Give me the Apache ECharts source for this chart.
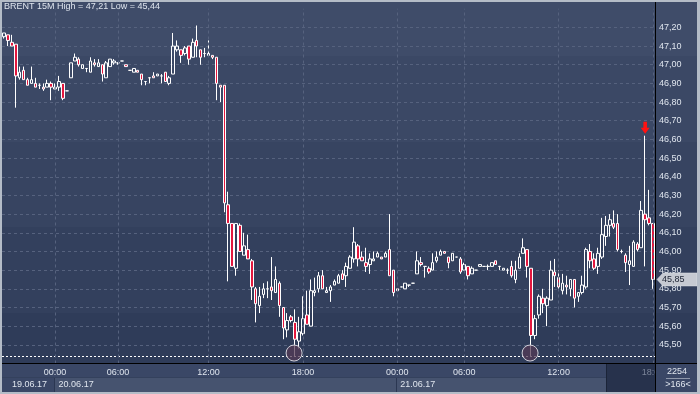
<!DOCTYPE html>
<html><head><meta charset="utf-8">
<script src="https://cdn.jsdelivr.net/npm/echarts@6/dist/echarts.min.js"></script>
<style>html,body{margin:0;padding:0;background:#3a4765;}#c{width:700px;height:394px;}</style>
</head><body><div id="c"></div>
<script>
// ---- data (BRENT 15M candles) ----
const opens = [
47.15,47.16,47.12,47.11,46.93,46.97,46.92,46.90,46.90,46.89,46.88,46.88,46.90,46.87,46.88,46.90,46.86,46.93,47.02,47.03,
46.98,46.98,46.96,47.01,46.99,47.00,46.93,46.99,47.01,47.01,47.02,47.00,46.97,46.96,46.97,46.95,46.91,46.93,46.94,46.94,
46.94,46.96,46.90,46.95,47.08,47.08,47.06,47.10,47.04,47.13,47.08,47.06,47.05,47.05,47.04,46.89,46.89,46.25,46.15,45.91,
46.14,45.98,46.01,45.95,45.80,45.71,45.77,45.80,45.81,45.78,45.83,45.70,45.58,45.65,45.62,45.52,45.56,45.66,45.60,45.78,
45.80,45.87,45.78,45.79,45.82,45.83,45.88,45.87,45.91,45.96,46.03,45.97,45.94,45.93,45.95,45.97,45.97,45.97,46.01,45.90,
45.80,45.81,45.80,45.82,45.83,45.88,45.94,45.92,45.91,45.90,45.95,45.98,46.00,45.97,45.95,45.97,45.96,45.90,45.92,45.88,
45.90,45.92,45.92,45.92,45.92,45.95,45.92,45.90,45.90,45.92,45.85,45.91,45.99,46.01,45.91,45.55,45.66,45.75,45.71,45.74,
45.89,45.86,45.79,45.82,45.80,45.85,45.76,45.78,45.81,46.00,45.96,45.92,45.97,46.08,46.14,46.15,46.15,46.00,45.98,45.93,
45.92,46.04,46.02,46.20,46.18,46.15];
const closes = [
47.17,47.13,47.10,46.94,46.96,46.92,46.89,46.92,46.88,46.89,46.87,46.90,46.88,46.88,46.91,46.82,46.86,47.01,47.04,47.00,
47.00,46.98,47.02,47.00,47.01,46.95,47.01,47.03,47.02,47.01,47.02,46.99,46.97,46.98,46.96,46.92,46.91,46.93,46.93,46.95,
46.94,46.91,46.93,47.10,47.10,47.05,47.09,47.03,47.12,47.10,47.04,47.06,47.06,47.04,46.90,46.88,46.26,46.15,45.92,46.15,
46.00,46.03,45.96,45.81,45.72,45.76,45.80,45.80,45.79,45.85,45.71,45.59,45.63,45.63,45.53,45.57,45.64,45.61,45.79,45.79,
45.87,45.80,45.79,45.81,45.84,45.87,45.85,45.92,45.97,46.05,45.96,45.95,45.92,45.96,45.96,45.99,45.96,45.99,45.87,45.78,
45.79,45.81,45.83,45.82,45.83,45.95,45.93,45.92,45.89,45.94,45.97,46.00,45.99,45.94,45.99,45.97,45.89,45.93,45.87,45.91,
45.90,45.93,45.92,45.92,45.94,45.93,45.92,45.91,45.90,45.87,45.90,45.97,46.02,45.92,45.55,45.64,45.76,45.72,45.75,45.90,
45.87,45.81,45.83,45.81,45.85,45.75,45.78,45.82,46.01,45.95,45.91,45.99,46.09,46.14,46.17,46.13,46.01,46.00,45.94,45.95,
46.05,46.01,46.22,46.17,46.15,45.85];
const lows = [
47.14,47.10,47.10,46.77,46.92,46.92,46.89,46.90,46.88,46.87,46.86,46.88,46.81,46.87,46.86,46.81,46.86,46.93,47.02,46.99,
46.98,46.96,46.96,46.99,46.99,46.91,46.93,46.99,47.00,47.00,47.02,46.99,46.97,46.96,46.96,46.89,46.89,46.90,46.93,46.94,
46.90,46.91,46.89,46.95,47.07,47.01,47.05,47.00,47.04,47.04,47.00,47.04,47.05,47.03,46.81,46.80,46.21,45.84,45.92,45.87,
46.00,45.98,45.96,45.74,45.62,45.67,45.75,45.75,45.74,45.78,45.65,45.53,45.54,45.62,45.44,45.48,45.55,45.61,45.60,45.76,
45.78,45.80,45.78,45.73,45.82,45.83,45.85,45.81,45.91,45.94,45.92,45.95,45.89,45.88,45.95,45.97,45.96,45.97,45.87,45.76,
45.79,45.81,45.80,45.81,45.83,45.88,45.92,45.86,45.88,45.90,45.94,45.98,45.99,45.91,45.95,45.97,45.88,45.90,45.85,45.88,
45.90,45.92,45.92,45.90,45.92,45.93,45.90,45.90,45.88,45.86,45.83,45.91,45.99,45.86,45.44,45.53,45.64,45.67,45.60,45.74,
45.81,45.79,45.77,45.77,45.76,45.70,45.73,45.77,45.80,45.91,45.90,45.88,45.96,46.03,46.08,46.12,46.00,45.99,45.89,45.82,
45.92,46.00,46.02,45.92,46.14,45.80];
const highs = [
47.17,47.16,47.16,47.11,46.99,46.99,46.93,46.99,46.93,46.90,46.90,46.92,46.91,46.90,46.94,46.90,46.86,47.01,47.06,47.04,
47.00,46.98,47.04,47.03,47.03,47.00,47.02,47.03,47.03,47.01,47.02,47.00,46.97,46.98,46.97,46.95,46.91,46.93,46.96,46.95,
46.95,46.96,46.94,47.17,47.13,47.08,47.10,47.10,47.14,47.21,47.08,47.09,47.13,47.05,47.04,46.89,46.89,46.32,46.15,46.15,
46.15,46.10,46.09,45.96,45.81,45.81,45.83,45.84,45.97,45.92,45.84,45.70,45.67,45.66,45.69,45.65,45.76,45.79,45.85,45.86,
45.89,45.90,45.81,45.82,45.85,45.88,45.90,45.94,45.98,46.13,46.04,46.00,46.02,45.99,46.00,46.00,45.97,46.00,46.20,45.90,
45.80,45.81,45.83,45.82,45.83,46.00,45.97,45.92,45.92,45.99,46.00,46.01,46.00,45.97,45.99,45.97,45.97,45.94,45.92,45.92,
45.90,45.93,45.92,45.93,45.94,45.95,45.92,45.91,45.91,45.95,45.95,45.99,46.07,46.01,45.91,45.66,45.77,45.80,45.76,45.95,
45.96,45.90,45.88,45.87,45.85,45.85,45.78,45.87,46.02,46.04,45.99,46.02,46.18,46.19,46.20,46.22,46.20,46.01,45.99,46.03,
46.06,46.05,46.27,46.62,46.33,46.15];
const timeLabels = ['00:00','06:00','12:00','18:00','00:00','06:00','12:00','18:00'];
const timeIdx = [13,29,52,76,100,117,141,165];
const dateLabels = ['19.06.17','20.06.17','21.06.17'];
const dayStartIdx = [13,100];
const lowMarkIdx = [74,134];
const arrowIdx = 163;
const lowLevel = 45.44;
const titleText = 'BRENT 15M High = 47,21 Low = 45,44';
const counterText = '2254';

const FONT = '"Liberation Sans", Arial, sans-serif';
const TXT = '#dfe5ee';
const GRIDC = '#56627e';

const cats = opens.map((_, i) => String(i));
const candles = opens.map((o, i) => [o, closes[i], lows[i], highs[i]]);

const chart = echarts.init(document.getElementById('c'), null, {renderer: 'canvas'});
chart.setOption({
  animation: false,
  backgroundColor: '#3a4765',
  title: {text: titleText, left: 4, top: 2, padding: 0,
    textStyle: {color: TXT, fontSize: 9, fontWeight: 'normal', fontFamily: FONT}},
  grid: {left: 2, right: 45, top: 8.7, bottom: 30.5, containLabel: false},
  xAxis: {
    type: 'category', data: cats, boundaryGap: true,
    axisLine: {show: true, lineStyle: {color: '#000000', width: 1}},
    axisTick: {show: false},
    splitLine: {show: false},
    axisLabel: {
      interval: (i) => timeIdx.includes(i),
      formatter: (v) => { const k = timeIdx.indexOf(Number(v)); return k >= 0 ? timeLabels[k] : ''; },
      color: (v) => Number(v) === timeIdx[timeIdx.length - 1] ? '#7b8498' : TXT,
      fontSize: 9, fontFamily: FONT, margin: 5
    }
  },
  yAxis: {
    type: 'value', position: 'right', min: 45.4, max: 47.3, interval: 0.1,
    axisLine: {show: true, lineStyle: {color: '#000000', width: 1}},
    axisTick: {show: false},
    axisLabel: {margin: 4, color: TXT, fontSize: 9, fontFamily: FONT,
      showMinLabel: false, showMaxLabel: false,
      formatter: (v) => v.toFixed(2).replace('.', ',')},
    splitLine: {show: true, showMinLine: false, showMaxLine: false,
      lineStyle: {color: GRIDC, type: [3, 3], width: 1}}
  },
  series: [{
    type: 'candlestick',
    data: candles,
    barWidth: 3,
    itemStyle: {color: 'transparent', color0: '#e3173e', borderColor: '#ffffff', borderColor0: '#ffffff', borderWidth: 1},
    markLine: {
      silent: true, symbol: 'none', animation: false, label: {show: false},
      data: [
        {yAxis: lowLevel, lineStyle: {color: '#ffffff', type: [2, 2], width: 1}},
        ...timeIdx.map(i => ({xAxis: i, lineStyle: {color: GRIDC, type: [3, 3], width: 1}}))
      ]
    },
    markPoint: {
      silent: true, animation: false, label: {show: false},
      data: [
        ...lowMarkIdx.map(i => ({coord: [i, lows[i]], symbol: 'circle', symbolSize: 16, symbolOffset: [-1, -3],
          itemStyle: {color: 'rgba(85,58,85,0.72)', borderColor: '#cfcfd8', borderWidth: 1}})),
        {coord: [arrowIdx, highs[arrowIdx]], symbol: 'path://M3,0 L7,0 L7,6 L10,6 L5,12 L0,6 L3,6 Z',
          symbolSize: [9, 12], symbolOffset: [0, -8], itemStyle: {color: '#ff1212'}}
      ]
    }
  }]
});

// ---- decorations placed with the chart's own scales ----
const px = (i) => chart.convertToPixel({xAxisIndex: 0}, i);
const py = (v) => chart.convertToPixel({yAxisIndex: 0}, v);
const d0 = px(dayStartIdx[0]), d1 = px(dayStartIdx[1]);
const lastY = py(closes[closes.length - 1]);
const lastTxt = closes[closes.length - 1].toFixed(2).replace('.', ',');

const bands = ['#3f4c69', '#3b4865', '#374461', '#33405d', '#2f3c59'];
const edges = [0, 0.1547, 0.3895, 0.6243, 0.859, 1];
const stops = [];
bands.forEach((c, k) => { stops.push({offset: edges[k], color: c}); stops.push({offset: edges[k + 1], color: c}); });

const g = [
  {type: 'rect', z: -10, shape: {x: 0, y: 0, width: 700, height: 364},
    style: {fill: {type: 'linear', x: 0, y: 0, x2: 0, y2: 1, colorStops: stops}}},
  {type: 'rect', z: -10, shape: {x: 0, y: 364, width: 700, height: 30}, style: {fill: '#3a4766'}},
  {type: 'rect', z: -9, shape: {x: 54, y: 378, width: 552, height: 14}, style: {fill: '#46536f'}},
  {type: 'line', z: -8, shape: {x1: Math.round(d0) - 0.5, y1: 378, x2: Math.round(d0) - 0.5, y2: 392}, style: {stroke: '#2b3752', lineWidth: 1}},
  {type: 'line', z: -8, shape: {x1: Math.round(d1) - 0.5, y1: 378, x2: Math.round(d1) - 0.5, y2: 392}, style: {stroke: '#2b3752', lineWidth: 1}},
  {type: 'line', z: -8, shape: {x1: 2, y1: 377.5, x2: 606, y2: 377.5}, style: {stroke: '#34415d', lineWidth: 1}},
  {type: 'rect', z: -8, shape: {x: 606, y: 364, width: 50, height: 28}, style: {fill: '#27324c'}},
  {type: 'line', z: -7, shape: {x1: 606.5, y1: 364, x2: 606.5, y2: 392}, style: {stroke: '#1b2438', lineWidth: 1}},
  {type: 'text', z: 5, style: {text: dateLabels[0], x: d0 - 8, y: 384.5, align: 'right', verticalAlign: 'middle', fill: TXT, font: '9px ' + FONT}},
  {type: 'text', z: 5, style: {text: dateLabels[1], x: d0 + 3.5, y: 384.5, align: 'left', verticalAlign: 'middle', fill: TXT, font: '9px ' + FONT}},
  {type: 'text', z: 5, style: {text: dateLabels[2], x: d1 + 3, y: 384.5, align: 'left', verticalAlign: 'middle', fill: TXT, font: '9px ' + FONT}},
  // right-bottom counter box
  {type: 'rect', z: 100, shape: {x: 656, y: 364, width: 42, height: 28}, style: {fill: '#3a4766'}},
  {type: 'text', z: 101, style: {text: counterText, x: 677, y: 372, align: 'center', verticalAlign: 'middle', fill: TXT, font: '9px ' + FONT}},
  {type: 'line', z: 101, shape: {x1: 666, y1: 378.5, x2: 690, y2: 378.5}, style: {stroke: '#8e97aa', lineWidth: 1}},
  {type: 'text', z: 101, style: {text: '>' + opens.length + '<', x: 678, y: 384.5, align: 'center', verticalAlign: 'middle', fill: TXT, font: '9px ' + FONT}},
  // frame lines
  {type: 'line', z: 102, shape: {x1: 655.5, y1: 2, x2: 655.5, y2: 392}, style: {stroke: '#000000', lineWidth: 1}},
  {type: 'line', z: 102, shape: {x1: 2, y1: 363.5, x2: 698, y2: 363.5}, style: {stroke: '#000000', lineWidth: 1}},
  // last price tag
  {type: 'polygon', z: 103, shape: {points: [[657, lastY], [663, lastY - 6.5], [697, lastY - 6.5], [697, lastY + 6.5], [663, lastY + 6.5]]},
    style: {fill: '#c6cad2', stroke: '#e2e5ea', lineWidth: 0.5}},
  {type: 'text', z: 104, style: {text: lastTxt, x: 662, y: lastY + 0.5, align: 'left', verticalAlign: 'middle', fill: '#1b2232', font: '9px ' + FONT}},
  // outer border
  {type: 'rect', z: 110, shape: {x: 0, y: 0, width: 700, height: 2}, style: {fill: '#b4bcc7'}},
  {type: 'rect', z: 110, shape: {x: 0, y: 392, width: 700, height: 2}, style: {fill: '#b4bcc7'}},
  {type: 'rect', z: 110, shape: {x: 0, y: 0, width: 2, height: 394}, style: {fill: '#b4bcc7'}},
  {type: 'rect', z: 110, shape: {x: 697, y: 0, width: 3, height: 394}, style: {fill: '#b4bcc7'}}
];
chart.setOption({graphic: g});
</script></body></html>
